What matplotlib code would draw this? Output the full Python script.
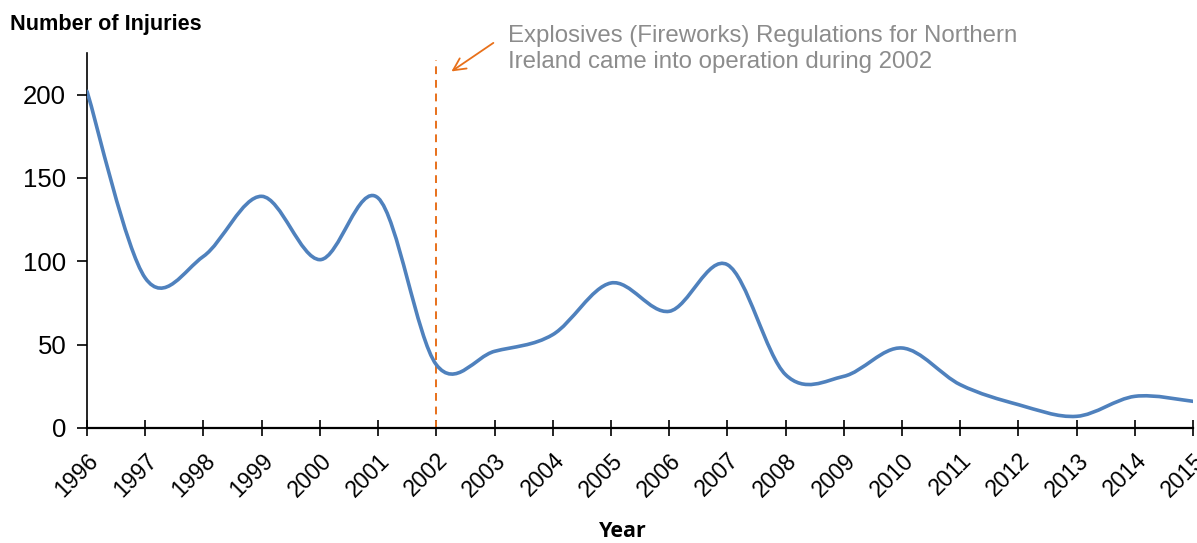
import matplotlib
matplotlib.use("Agg")
import matplotlib.pyplot as plt
from matplotlib.path import Path
from matplotlib.patches import PathPatch
from matplotlib.transforms import ScaledTranslation

plt.rcParams['font.family'] = ['Liberation Sans', 'DejaVu Sans']

years = list(range(1996, 2016))
injuries = [202, 90, 103, 139, 101, 138, 38, 46, 56, 87, 70, 98, 32, 31, 48, 26, 14, 7, 19, 16]
law_year = 2002
note = "Explosives (Fireworks) Regulations for Northern\nIreland came into operation during 2002"

fig = plt.figure(figsize=(11.97, 5.43), dpi=100)
ax = fig.add_axes([0.0727, 0.2118, 0.9240, 0.6906])

# smooth line like excel (catmull-rom as bezier segments)
pts = list(zip(years, injuries))
verts = [pts[0]]
codes = [Path.MOVETO]
n = len(pts)
for i in range(n - 1):
    p0 = pts[max(i - 1, 0)]
    p1 = pts[i]
    p2 = pts[i + 1]
    p3 = pts[min(i + 2, n - 1)]
    c1 = (p1[0] + (p2[0] - p0[0]) / 6, p1[1] + (p2[1] - p0[1]) / 6)
    c2 = (p2[0] - (p3[0] - p1[0]) / 6, p2[1] - (p3[1] - p1[1]) / 6)
    verts += [c1, c2, p2]
    codes += [Path.CURVE4] * 3
ax.add_patch(PathPatch(Path(verts, codes), facecolor='none', edgecolor='#4F81BD',
                       lw=2.6, capstyle='round', joinstyle='round', zorder=3))

ax.plot([law_year, law_year], [0, 221], color='#E8701A', lw=1.4, ls=(0, (4, 3)), zorder=2)

ax.annotate('', xy=(2002.22, 213), xytext=(2003.02, 232), xycoords='data',
            arrowprops=dict(arrowstyle='->', color='#E8701A', lw=1.3, mutation_scale=22),
            annotation_clip=False)
ax.text(2003.23, 227.5, note, fontsize=17.3, color='#8C8C8C', va='center', ha='left',
        linespacing=1.25, clip_on=False)

ax.set_xlim(1996, 2015)
ax.set_ylim(0, 225)
ax.set_xticks(years)
ax.set_xticklabels([str(y) for y in years], rotation=45, ha='right', rotation_mode='anchor')
shift = ScaledTranslation(-6 / 100, 0, fig.dpi_scale_trans)
for lab in ax.get_xticklabels():
    lab.set_transform(lab.get_transform() + shift)
ax.set_yticks([0, 50, 100, 150, 200])
ax.tick_params(axis='x', direction='inout', length=12, width=1.2, labelsize=16.5, pad=9)
ax.tick_params(axis='y', direction='out', length=7, width=1.2, labelsize=18.5, pad=8)
ax.spines['top'].set_visible(False)
ax.spines['right'].set_visible(False)
ax.spines['left'].set_linewidth(1.2)
ax.spines['bottom'].set_linewidth(1.6)

fig.text(0.0085, 0.955, 'Number of Injuries', fontsize=15.6, fontweight='bold', va='center', ha='left')
fig.text(0.52, 0.022, 'Year', fontsize=15.5, fontweight='bold', va='center', ha='center',
         family=['Open Sans', 'DejaVu Sans'])

fig.savefig('out.png', dpi=100)
